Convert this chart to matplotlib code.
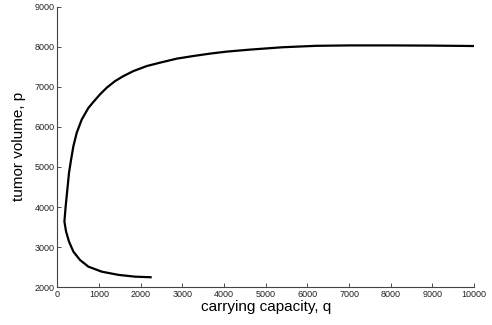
import matplotlib
matplotlib.use('Agg')
import matplotlib.pyplot as plt

# trajectory in the (q, p) plane, starting at the lower right end
q = [2265, 1865, 1465, 1065, 745, 545, 385, 280, 210, 170,
     200, 240, 280, 330, 385, 465, 585, 745, 865, 1025, 1185, 1385,
     1585, 1825, 2145, 2465, 2865, 3260, 3660, 4060, 4620, 5420,
     6220, 7020, 8000, 9000, 10000]
p = [2250, 2265, 2310, 2390, 2515, 2680, 2890, 3140, 3390, 3640,
     4015, 4430, 4850, 5180, 5515, 5850, 6180, 6470, 6620, 6810, 6975, 7140,
     7265, 7390, 7515, 7600, 7700, 7765, 7825, 7875, 7925, 7985,
     8020, 8030, 8030, 8025, 8015]

x_ticks = [0, 1000, 2000, 3000, 4000, 5000, 6000, 7000, 8000, 9000, 10000]
y_ticks = [2000, 3000, 4000, 5000, 6000, 7000, 8000, 9000]

plt.rcParams['font.family'] = ['Liberation Sans', 'DejaVu Sans']

fig = plt.figure(figsize=(4.92, 3.25), dpi=100)
ax = fig.add_axes([0.1165, 0.116, 0.847, 0.864])

ax.plot(q, p, color='black', linewidth=1.6, solid_joinstyle='round',
        solid_capstyle='butt')

ax.set_xlim(0, 10000)
ax.set_ylim(2000, 9000)
ax.set_xticks(x_ticks)
ax.set_yticks(y_ticks)
ax.tick_params(direction='in', length=3, width=0.6, labelsize=6.5, pad=2, colors='#333333')
ax.tick_params(labelcolor='#222222')

for side in ('top', 'right'):
    ax.spines[side].set_visible(False)
for side in ('left', 'bottom'):
    ax.spines[side].set_color('#444444')
    ax.spines[side].set_linewidth(0.8)

ax.set_xlabel('carrying capacity, q', fontsize=11, labelpad=1)
ax.set_ylabel('tumor volume, p', fontsize=11, labelpad=6)

fig.savefig('out.png', dpi=100, facecolor='white')
